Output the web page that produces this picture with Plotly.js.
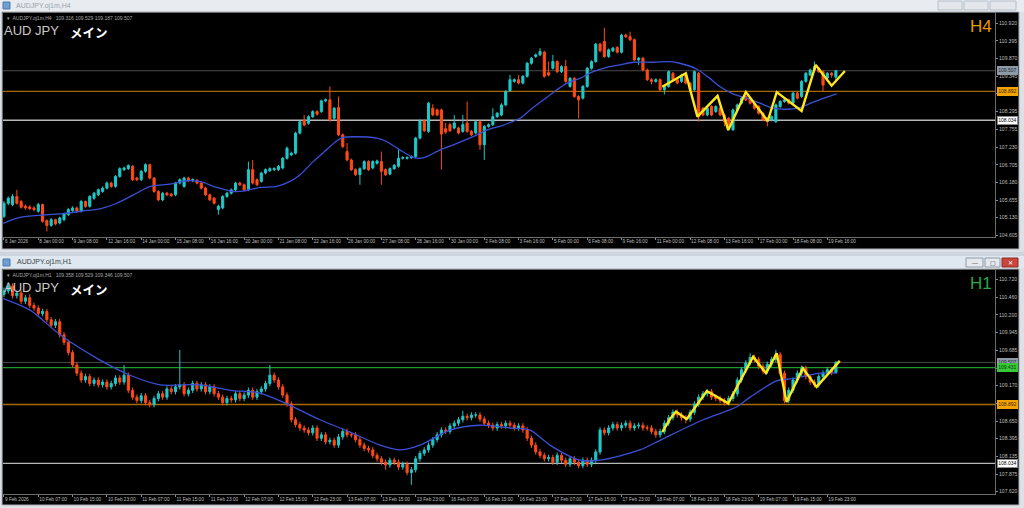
<!DOCTYPE html>
<html><head><meta charset="utf-8">
<script src="https://cdn.plot.ly/plotly-3.0.1.min.js"></script>
<style>html,body{margin:0;padding:0;background:#dde1e6;overflow:hidden}#chart{width:1024px;height:508px}</style>
</head><body><div id="chart"></div>
<script>
// ---------- H4 panel data ----------
const h4Open=[105.17,105.56,105.52,105.76,105.61,105.47,105.45,105.42,105.32,105.52,
105.04,104.90,105.07,104.97,105.07,105.22,105.34,105.42,105.32,105.61,
105.47,105.71,105.81,105.91,106.01,106.16,106.06,106.36,106.56,106.59,
106.66,106.31,106.26,106.51,106.71,106.31,105.91,105.66,105.86,105.83,
105.81,106.16,106.06,106.31,106.23,106.24,106.16,106.01,105.81,105.71,
105.37,105.42,105.76,105.86,105.96,106.16,106.11,105.96,106.56,106.26,
106.21,106.46,106.53,106.56,106.56,106.61,106.90,107.00,107.05,107.65,
108.04,107.94,108.14,108.29,108.29,108.61,108.64,108.09,108.41,107.60,
107.10,106.85,106.56,106.41,106.59,106.80,106.61,106.75,106.80,106.56,
106.43,106.59,106.66,106.90,106.90,106.92,106.95,107.50,108.02,107.70,
108.39,108.34,108.34,107.78,107.90,107.80,107.80,107.70,107.95,107.70,
107.65,107.99,107.30,107.85,107.90,108.14,108.19,108.49,108.91,109.19,
109.24,109.14,109.34,109.73,109.93,109.98,110.06,109.45,109.58,109.78,
109.48,109.63,109.04,109.28,108.74,108.69,109.04,109.58,109.78,110.30,
110.38,109.93,110.10,110.20,110.06,110.57,110.52,110.43,109.83,109.88,
109.53,109.24,109.19,109.24,108.94,109.04,109.43,109.24,109.19,109.38,
109.14,108.94,109.43,108.39,108.19,108.44,108.29,108.39,108.19,108.09,
107.75,108.34,108.54,108.74,108.69,108.54,108.44,108.24,108.09,108.04,
107.99,108.44,108.59,108.64,108.54,108.84,108.74,109.19,109.38,109.53,
109.58,109.48,109.29,109.43,109.316];
const h4High=[105.62,105.76,105.83,105.96,105.66,105.52,105.50,105.47,105.57,105.55,
105.08,105.12,105.10,105.16,105.28,105.42,105.47,105.46,105.66,105.64,
105.80,105.90,106.00,106.06,106.21,106.20,106.40,106.63,106.65,106.71,
106.70,106.35,106.55,106.75,106.74,106.34,105.95,105.90,105.90,105.87,
106.20,106.30,106.35,106.35,106.30,106.28,106.20,106.05,105.85,105.75,
105.52,105.80,105.90,106.00,106.20,106.20,106.15,106.80,106.85,106.30,
106.50,106.60,106.63,106.63,106.70,106.94,107.25,107.10,107.69,108.03,
108.19,108.18,108.33,108.33,108.65,108.68,109.04,108.43,108.74,107.64,
107.35,106.89,106.60,106.63,106.84,106.84,106.84,106.86,107.10,106.60,
106.63,106.73,107.15,106.96,106.96,106.99,107.54,108.06,108.06,108.58,
108.51,108.38,108.38,107.95,107.95,108.19,107.84,108.19,108.59,107.74,
108.03,108.03,107.89,107.94,108.39,108.28,108.54,108.93,109.38,109.28,
109.38,109.38,109.77,109.92,110.02,110.18,110.10,109.78,109.98,109.82,
109.67,109.83,109.32,109.32,108.78,109.08,109.62,109.82,110.34,110.34,
110.79,110.17,110.22,110.24,110.61,110.61,110.67,110.47,109.92,109.92,
109.57,109.28,109.28,109.28,109.08,109.52,109.47,109.28,109.42,109.42,
109.18,109.52,109.47,108.43,108.43,108.48,108.48,108.43,108.23,108.13,
108.38,108.53,108.73,108.78,108.73,108.58,108.48,108.28,108.13,108.18,
108.53,108.63,108.68,108.68,108.88,108.88,109.23,109.47,109.57,109.78,
109.62,109.52,109.47,109.47,109.529];
const h4Low=[105.12,105.50,105.47,105.52,105.40,105.37,105.36,105.32,105.28,104.98,
104.72,104.86,104.90,104.93,105.02,105.18,105.30,105.28,105.28,105.42,
105.43,105.66,105.77,105.87,105.97,106.02,106.02,106.32,106.52,106.55,
106.22,106.22,106.22,106.47,106.27,105.87,105.62,105.62,105.77,105.74,
105.77,106.12,106.02,106.19,106.19,106.12,105.97,105.77,105.62,105.52,
105.22,105.38,105.72,105.82,105.92,106.07,105.92,105.92,106.12,106.07,
106.17,106.42,106.49,106.52,106.52,106.57,106.86,106.96,107.01,107.61,
107.85,107.90,108.10,108.17,108.25,108.57,107.99,108.05,107.56,107.20,
106.81,106.52,106.37,106.11,106.55,106.52,106.57,106.71,106.11,106.37,
106.39,106.55,106.62,106.86,106.86,106.88,106.91,107.46,107.68,107.66,
108.15,108.15,106.56,107.62,107.68,107.76,107.61,107.66,107.66,107.56,
107.61,107.15,106.85,107.81,107.86,108.10,108.15,108.45,108.87,109.15,
109.10,109.10,109.30,109.69,109.89,109.94,109.30,109.34,109.54,109.44,
109.44,109.15,109.00,108.70,108.09,108.65,109.00,109.54,109.74,110.06,
109.89,109.89,110.06,110.02,110.02,110.48,110.39,109.79,109.68,109.49,
109.20,109.10,109.15,108.90,108.80,109.00,109.20,109.10,109.15,109.10,
108.90,108.90,107.99,108.15,108.15,108.15,108.25,108.15,107.85,107.85,
107.71,108.30,108.50,108.60,108.50,108.35,108.20,108.00,107.85,108.00,
107.95,108.40,108.55,108.50,108.50,108.65,108.70,109.15,109.34,109.49,
109.44,108.89,109.25,109.30,109.187];
const h4Close=[105.56,105.71,105.76,105.56,105.44,105.42,105.40,105.37,105.52,105.02,
104.90,105.07,104.94,105.12,105.24,105.37,105.42,105.32,105.61,105.47,
105.76,105.86,105.96,106.01,106.16,106.06,106.36,106.59,106.61,106.69,
106.26,106.26,106.51,106.71,106.31,105.91,105.66,105.86,105.81,105.79,
106.16,106.26,106.31,106.23,106.26,106.16,106.01,105.81,105.66,105.56,
105.47,105.76,105.86,105.96,106.16,106.11,105.96,106.56,106.16,106.11,
106.46,106.56,106.59,106.59,106.66,106.90,107.20,107.05,107.65,107.99,
107.89,108.14,108.29,108.21,108.61,108.64,108.04,108.39,107.60,107.25,
106.85,106.56,106.41,106.59,106.80,106.56,106.80,106.82,106.51,106.41,
106.59,106.69,106.90,106.92,106.92,106.95,107.50,108.01,107.72,108.54,
108.19,108.19,107.62,107.68,107.72,107.95,107.65,107.90,107.70,107.60,
107.99,107.30,107.85,107.90,108.14,108.24,108.49,108.89,109.24,109.24,
109.14,109.34,109.73,109.88,109.98,110.08,109.34,109.38,109.78,109.48,
109.63,109.19,109.28,108.74,108.64,109.04,109.58,109.78,110.30,110.10,
109.93,110.13,110.18,110.06,110.57,110.52,110.43,109.83,109.88,109.53,
109.24,109.19,109.24,108.94,109.04,109.48,109.24,109.14,109.38,109.14,
108.94,109.48,108.14,108.19,108.39,108.19,108.44,108.19,107.99,107.89,
108.34,108.49,108.69,108.64,108.54,108.39,108.24,108.04,107.99,108.14,
108.49,108.59,108.64,108.54,108.84,108.69,109.19,109.43,109.53,109.63,
109.48,109.08,109.43,109.38,109.507];
const h4MaX=[-0.2,3.7,9.2,13.8,18.5,22.8,26.3,30.2,34.1,38.7,42.6,45.7,49.6,53.5,56.2,59.7,63.6,66.7,69.0,72.1,75.2,77.6,79.1,81.5,86.9,89.2,92.3,95.5,97.0,98.6,101.7,104.8,109.5,112.6,116.5,120.3,122.7,125.8,128.1,131.2,134.3,137.4,140.6,143.7,146.8,151.4,155.3,157.6,161.5,164.6,167.0,170.1,173.2,176.3,179.4,182.5,185.6,188.7,191.9,194.2];
const h4MaY=[104.96,105.14,105.21,105.25,105.33,105.41,105.56,105.81,106.06,106.13,106.23,106.21,106.03,105.91,105.93,106.03,106.06,106.21,106.40,106.80,107.15,107.42,107.52,107.54,107.50,107.40,107.15,106.92,106.90,106.95,107.15,107.30,107.55,107.74,107.89,108.09,108.34,108.64,108.86,109.13,109.28,109.48,109.61,109.68,109.76,109.76,109.78,109.73,109.56,109.28,109.03,108.81,108.69,108.54,108.39,108.36,108.41,108.57,108.72,108.82];
const h4ZigX=[153.5,159.0,161.7,166.4,168.9,173.0,178.1,180.2,186.0,189.3,193.0,196.1];
const h4ZigY=[109.03,109.43,108.14,108.76,107.74,108.87,108.01,108.87,108.31,109.68,109.06,109.50];
const h4TickIdx=[0,8,16,24,32,40,48,56,64,72,80,88,96,104,112,120,128,136,144,152,160,168,176,184,192];
const h4TickText=['6 Jan 2026','8 Jan 00:00','9 Jan 08:00','12 Jan 16:00','14 Jan 00:00','15 Jan 08:00','16 Jan 16:00','20 Jan 00:00','21 Jan 08:00','22 Jan 16:00','26 Jan 00:00','27 Jan 08:00','28 Jan 16:00','30 Jan 00:00','2 Feb 08:00','3 Feb 16:00','5 Feb 00:00','6 Feb 08:00','9 Feb 16:00','11 Feb 00:00','12 Feb 08:00','13 Feb 16:00','17 Feb 00:00','18 Feb 08:00','19 Feb 16:00'];
const h4PriceTicks=[110.920,110.395,109.870,109.345,108.820,108.295,107.755,107.230,106.705,106.180,105.655,105.130,104.605];
const h4PriceLabels=['110.920','110.395','109.870','109.345','','108.295','107.755','107.230','106.705','106.180','105.655','105.130','104.605'];

// ---------- H1 panel data ----------
const h1Open=[110.50,110.55,110.62,110.48,110.52,110.40,110.45,110.34,110.30,110.22,
110.25,110.13,110.05,110.10,109.91,109.80,109.65,109.47,109.35,109.25,
109.30,109.20,109.25,109.18,109.22,109.15,109.20,109.28,109.22,109.32,
109.10,109.00,108.95,109.02,108.92,108.89,108.98,109.05,109.00,109.12,
109.08,109.15,109.18,109.05,109.10,109.20,109.12,109.18,109.08,109.15,
109.05,109.00,108.92,108.98,108.96,109.05,108.98,109.03,109.10,109.00,
109.08,109.12,109.20,109.32,109.25,109.15,109.03,108.90,108.67,108.60,
108.55,108.52,108.48,108.55,108.40,108.45,108.35,108.37,108.30,108.42,
108.50,108.45,108.45,108.38,108.30,108.25,108.23,108.15,108.10,108.05,
108.01,108.08,108.05,107.98,108.02,107.90,107.94,108.10,108.18,108.23,
108.30,108.38,108.45,108.52,108.50,108.58,108.62,108.67,108.72,108.70,
108.74,108.74,108.68,108.62,108.59,108.55,108.60,108.58,108.62,108.59,
108.55,108.58,108.52,108.40,108.30,108.20,108.15,108.10,108.12,108.05,
108.15,108.08,108.02,108.10,108.05,108.00,108.08,108.02,108.08,108.20,
108.52,108.48,108.55,108.60,108.55,108.59,108.62,108.55,108.58,108.59,
108.55,108.55,108.50,108.45,108.50,108.62,108.70,108.78,108.74,108.70,
108.68,108.78,108.90,109.00,109.05,109.08,109.00,108.98,108.95,108.92,
108.98,109.05,109.25,109.40,109.50,109.58,109.55,109.45,109.38,109.48,
109.55,109.62,109.35,108.95,109.10,109.25,109.35,109.42,109.30,109.22,
109.18,109.30,109.35,109.40,109.358];
const h1High=[110.60,110.68,110.66,110.56,110.56,110.49,110.50,110.38,110.34,110.29,
110.29,110.17,110.14,110.14,109.95,109.84,109.69,109.51,109.39,109.34,
109.34,109.29,109.29,109.26,109.26,109.24,109.32,109.32,109.47,109.36,
109.14,109.04,109.06,109.06,108.96,109.02,109.09,109.09,109.16,109.16,
109.19,109.69,109.22,109.14,109.24,109.24,109.22,109.22,109.19,109.19,
109.09,109.04,109.02,109.02,109.09,109.09,109.07,109.14,109.14,109.12,
109.16,109.24,109.47,109.36,109.29,109.19,109.07,108.94,108.71,108.64,
108.59,108.56,108.59,108.59,108.49,108.49,108.41,108.41,108.46,108.54,
108.54,108.49,108.49,108.42,108.34,108.29,108.27,108.19,108.14,108.09,
108.12,108.12,108.09,108.06,108.06,107.98,108.14,108.22,108.27,108.34,
108.42,108.49,108.56,108.56,108.62,108.66,108.71,108.80,108.76,108.78,
108.78,108.78,108.72,108.66,108.63,108.64,108.64,108.66,108.66,108.63,
108.62,108.62,108.56,108.44,108.34,108.24,108.19,108.16,108.16,108.19,
108.19,108.12,108.14,108.14,108.09,108.12,108.12,108.12,108.24,108.56,
108.56,108.59,108.64,108.64,108.63,108.66,108.66,108.62,108.63,108.63,
108.59,108.59,108.54,108.54,108.66,108.74,108.82,108.82,108.78,108.74,
108.82,108.94,109.04,109.09,109.12,109.12,109.04,109.02,108.99,109.02,
109.09,109.29,109.44,109.54,109.64,109.62,109.59,109.49,109.52,109.59,
109.69,109.66,109.39,109.14,109.29,109.39,109.46,109.46,109.34,109.26,
109.34,109.39,109.44,109.44,109.529];
const h1Low=[110.46,110.51,110.44,110.44,110.36,110.36,110.30,110.26,110.18,110.18,
110.09,110.01,110.01,109.87,109.76,109.61,109.43,109.31,109.21,109.21,
109.16,109.16,109.14,109.14,109.11,109.11,109.16,109.18,109.18,109.06,
108.96,108.91,108.91,108.88,108.85,108.85,108.94,108.96,108.96,109.04,
109.04,109.11,109.01,109.01,109.06,109.08,109.08,109.04,109.04,109.01,
108.96,108.88,108.88,108.92,108.92,108.94,108.94,108.99,108.96,108.96,
109.04,109.08,109.16,109.21,109.11,108.99,108.86,108.63,108.56,108.51,
108.48,108.44,108.44,108.36,108.36,108.31,108.31,108.26,108.26,108.38,
108.41,108.41,108.34,108.26,108.21,108.19,108.11,108.06,108.01,107.94,
107.97,108.01,107.94,107.94,107.86,107.72,107.90,108.06,108.14,108.19,
108.26,108.34,108.41,108.46,108.46,108.54,108.58,108.63,108.66,108.66,
108.70,108.64,108.58,108.55,108.51,108.51,108.54,108.54,108.55,108.51,
108.51,108.48,108.36,108.26,108.16,108.11,108.06,108.06,108.01,108.01,
108.04,107.98,107.98,108.01,107.96,107.96,107.98,107.98,108.04,108.16,
108.44,108.44,108.51,108.51,108.51,108.55,108.51,108.51,108.54,108.51,
108.51,108.46,108.41,108.41,108.46,108.58,108.66,108.70,108.66,108.62,
108.64,108.74,108.86,108.96,109.01,108.96,108.94,108.91,108.88,108.88,
108.94,109.01,109.21,109.36,109.46,109.51,109.41,109.34,109.34,109.44,
109.51,109.31,108.91,108.91,109.06,109.21,109.31,109.26,109.18,109.14,
109.14,109.26,109.31,109.32,109.346];
const h1Close=[110.55,110.62,110.48,110.52,110.40,110.45,110.34,110.30,110.22,110.25,
110.13,110.05,110.10,109.91,109.80,109.65,109.47,109.35,109.25,109.30,
109.20,109.25,109.18,109.22,109.15,109.20,109.28,109.22,109.32,109.10,
109.00,108.95,109.02,108.92,108.89,108.98,109.05,109.00,109.12,109.08,
109.15,109.18,109.05,109.10,109.20,109.12,109.18,109.08,109.15,109.05,
109.00,108.92,108.98,108.96,109.05,108.98,109.03,109.10,109.00,109.08,
109.12,109.20,109.32,109.25,109.15,109.03,108.90,108.67,108.60,108.55,
108.52,108.48,108.55,108.40,108.45,108.35,108.37,108.30,108.42,108.50,
108.45,108.45,108.38,108.30,108.25,108.23,108.15,108.10,108.05,108.01,
108.08,108.05,107.98,108.02,107.90,107.94,108.10,108.18,108.23,108.30,
108.38,108.45,108.52,108.50,108.58,108.62,108.67,108.72,108.70,108.74,
108.74,108.68,108.62,108.59,108.55,108.60,108.58,108.62,108.59,108.55,
108.58,108.52,108.40,108.30,108.20,108.15,108.10,108.12,108.05,108.15,
108.08,108.02,108.10,108.05,108.00,108.08,108.02,108.08,108.20,108.52,
108.48,108.55,108.60,108.55,108.59,108.62,108.55,108.58,108.59,108.55,
108.55,108.50,108.45,108.50,108.62,108.70,108.78,108.74,108.70,108.68,
108.78,108.90,109.00,109.05,109.08,109.00,108.98,108.95,108.92,108.98,
109.05,109.25,109.40,109.50,109.58,109.55,109.45,109.38,109.48,109.55,
109.62,109.35,108.95,109.10,109.25,109.35,109.42,109.30,109.22,109.18,
109.30,109.35,109.40,109.358,109.507];
const h1MaX=[-0.2,6.1,13.1,22.4,29.4,36.4,45.7,52.7,59.7,66.7,73.7,80.7,87.7,92.4,97.0,104.0,111.0,118.0,122.7,127.3,134.3,139.0,148.3,153.0,163.0,170.9,174.0,180.3,184.0,190.3,194.3];
const h1MaY=[110.44,110.27,109.91,109.54,109.32,109.18,109.18,109.10,109.06,108.88,108.67,108.49,108.30,108.23,108.30,108.52,108.59,108.55,108.52,108.30,108.08,108.08,108.23,108.37,108.67,108.86,109.00,109.24,109.27,109.35,109.35];
const h1ZigX=[153.5,155.3,156.7,159.2,163.9,168.9,174.7,177.7,180.2,182.5,186.3,189.5,194.9];
const h1ZigY=[108.49,108.68,108.79,108.68,109.09,108.91,109.59,109.35,109.64,108.93,109.42,109.15,109.53];
const h1TickIdx=[0,8,16,24,32,40,48,56,64,72,80,88,96,104,112,120,128,136,144,152,160,168,176,184,192];
const h1TickText=['9 Feb 2026','10 Feb 07:00','10 Feb 15:00','10 Feb 23:00','11 Feb 07:00','11 Feb 15:00','11 Feb 23:00','12 Feb 07:00','12 Feb 15:00','12 Feb 23:00','13 Feb 07:00','13 Feb 15:00','13 Feb 23:00','16 Feb 07:00','16 Feb 15:00','16 Feb 23:00','17 Feb 07:00','17 Feb 15:00','17 Feb 23:00','18 Feb 07:00','18 Feb 15:00','18 Feb 23:00','19 Feb 07:00','19 Feb 15:00','19 Feb 23:00'];
const h1PriceTicks=[110.720,110.460,110.200,109.945,109.685,109.425,109.170,108.910,108.650,108.395,108.135,107.875,107.620];
const h1PriceLabels=['110.720','110.460','110.200','109.945','109.685','','109.170','','108.650','108.395','108.135','107.875','107.620'];

// price levels
const bidPrice=109.507, levelOrange=108.892, levelWhite=108.034, levelGreen=109.431;

// ---------- styling ----------
const W=1024,H=508;
const px=v=>v/W, py=v=>1-v/H;
const UP='#1fc8c8', DN='#ff4b16', MA='#3a50d8', ZIG='#ffe81a';
const FONT='Liberation Sans, Arial, sans-serif';
const XR=[-0.23,231.1];
const barsX=n=>Array.from({length:n},(_,i)=>i);

function candle(o,h,l,c,xa,ya){
  return {type:'candlestick',x:barsX(c.length),open:o,high:h,low:l,close:c,xaxis:xa,yaxis:ya,
    increasing:{line:{color:UP,width:1},fillcolor:UP},decreasing:{line:{color:DN,width:1},fillcolor:DN},
    whiskerwidth:0,hoverinfo:'none',showlegend:false};
}
function line(x,y,color,w,xa,ya,shape){
  return {type:'scatter',mode:'lines',x:x,y:y,xaxis:xa,yaxis:ya,line:{color:color,width:w,shape:shape||'linear',smoothing:0.8},hoverinfo:'none',showlegend:false};
}
const data=[
  candle(h4Open,h4High,h4Low,h4Close,'x','y'),
  line(h4MaX,h4MaY,MA,1.3,'x','y','spline'),
  line(h4ZigX,h4ZigY,ZIG,2.4,'x','y'),
  candle(h1Open,h1High,h1Low,h1Close,'x2','y2'),
  line(h1MaX,h1MaY,MA,1.3,'x2','y2','spline'),
  line(h1ZigX,h1ZigY,ZIG,2.4,'x2','y2')
];

function xAxis(anchor,vals,text){
  return {domain:[px(3),px(995)],range:XR,anchor:anchor,showgrid:false,zeroline:false,showline:true,mirror:true,
    linecolor:'#6c6c6c',linewidth:1,ticks:'outside',ticklen:2,tickcolor:'#8a8a8a',tickvals:vals,ticktext:text,
    tickangle:0,ticklabelposition:'outside right',tickfont:{family:FONT,size:4.7,color:'#bdbdbd'},
    rangeslider:{visible:false},fixedrange:true};
}
function yAxis(anchor,dom,range,ticks,labels){
  return {domain:dom,range:range,anchor:anchor,side:'right',showgrid:false,zeroline:false,showline:true,mirror:true,
    linecolor:'#6c6c6c',linewidth:1,ticks:'outside',ticklen:2,tickcolor:'#8a8a8a',tickvals:ticks,
    ticktext:labels,tickfont:{family:FONT,size:5.1,color:'#bdbdbd'},fixedrange:true};
}
function hline(p,color,w,xa,ya){
  return {type:'line',xref:xa,yref:ya,x0:XR[0],x1:XR[1],y0:p,y1:p,line:{color:color,width:w},layer:'below'};
}
function rect(x0,y0,x1,y1,fill,border){
  return {type:'rect',xref:'paper',yref:'paper',x0:px(x0),x1:px(x1),y0:py(y1),y1:py(y0),fillcolor:fill,
    line:{color:border||fill,width:border?1:0},layer:'below'};
}
const shapes=[
  rect(0,0,1024,12,'#e8ecf1'),
  rect(2,12,1019,249,'#000000','#a9b0b8'),
  rect(0,252,1024,256,'#cfd5dc'),
  rect(0,256,1024,268,'#dfe7f0'),
  rect(2,269,1019,505,'#000000','#a9b0b8'),
  rect(3,2,10,9,'#6f9fd0','#4a78a8'),
  rect(3,259,10,266,'#6f9fd0','#4a78a8'),
  rect(938,1,962,10,'#e3e7ec','#b6bec7'),
  rect(964,1,988,10,'#e3e7ec','#b6bec7'),
  rect(990,1,1016,10,'#e3e7ec','#b6bec7'),
  rect(966,258,983,267,'#e4e9ef','#8f9aa6'),
  rect(985,258,1000,267,'#e4e9ef','#8f9aa6'),
  rect(1002,258,1018,267,'#c9473d','#8e2a22'),
  hline(bidPrice,'#4a4a4a',1,'x','y'),
  hline(levelOrange,'#a86a00',1.4,'x','y'),
  hline(levelWhite,'#b8b8b8',1.4,'x','y'),
  hline(bidPrice,'#4a4a4a',1,'x2','y2'),
  hline(levelGreen,'#1f9a2a',1.2,'x2','y2'),
  hline(levelOrange,'#a86a00',1.4,'x2','y2'),
  hline(levelWhite,'#b8b8b8',1.4,'x2','y2')
];

function tag(p,ya,bg,fg,border){
  return {xref:'paper',yref:ya,x:px(997),y:p,xanchor:'left',yanchor:'middle',text:p.toFixed(3),showarrow:false,
    font:{family:FONT,size:5,color:fg},bgcolor:bg,bordercolor:border||bg,borderwidth:1,borderpad:0.3};
}
function txt(t,x,y,size,color,xa,extra){
  return Object.assign({xref:'paper',yref:'paper',x:px(x),y:py(y),xanchor:xa||'left',yanchor:'middle',text:t,
    showarrow:false,font:{family:FONT,size:size,color:color}},extra||{});
}
const last4=h4Open.length-1, last1=h1Close.length-1;
const f3=v=>v.toFixed(3);
const JP={family:'Noto Sans CJK JP, sans-serif',size:12.5,color:'#ffffff'};
const annotations=[
  txt('AUDJPY.oj1m,H4',14,6,7,'#9aa0a8'),
  txt('AUDJPY.oj1m,H1',15,262,7,'#3a3f46'),
  txt('▾  AUDJPY.oj1m,H4   '+[h4Open[last4],h4High[last4],h4Low[last4],h4Close[last4]].map(f3).join(' '),5,18.2,5,'#a8a8a8'),
  txt('▾  AUDJPY.oj1m,H1   '+[h1Open[last1],h1High[last1],h1Low[last1],h1Close[last1]].map(f3).join(' '),5,274.5,5,'#a8a8a8'),
  txt('AUD JPY',2,21.2,13,'#c9c9c9','left',{yanchor:'top'}),
  txt('<b>メイン</b>',68,21.2,12.5,'#ffffff','left',{yanchor:'top',font:JP}),
  txt('AUD JPY',2,277.5,13,'#c9c9c9','left',{yanchor:'top'}),
  txt('<b>メイン</b>',68,277.5,12.5,'#ffffff','left',{yanchor:'top',font:JP}),
  txt('H4',994,26,17,'#e89c00','right'),
  txt('H1',994,283,17,'#2aa84a','right'),
  txt('—',974.5,262.5,6,'#333','center'),
  txt('▢',992.5,262.5,6,'#333','center'),
  txt('✕',1010,262.5,6,'#ffffff','center'),
  tag(bidPrice,'y','#8e9aa6','#1e2630'),
  tag(levelOrange,'y','#f3a300','#3a2400'),
  tag(levelWhite,'y','#ffffff','#000000','#888888'),
  tag(bidPrice,'y2','#8e9aa6','#1e2630'),
  tag(levelGreen,'y2','#38c838','#0b3a0b'),
  tag(levelOrange,'y2','#f3a300','#3a2400'),
  tag(levelWhite,'y2','#ffffff','#000000','#888888')
];

const layout={
  width:W,height:H,margin:{l:0,r:0,t:0,b:0},paper_bgcolor:'#dde1e6',plot_bgcolor:'#000000',showlegend:false,
  xaxis:xAxis('y',h4TickIdx,h4TickText),
  yaxis:yAxis('x',[py(236.7),py(13)],[104.563,111.227],h4PriceTicks,h4PriceLabels),
  xaxis2:xAxis('y2',h1TickIdx,h1TickText),
  yaxis2:yAxis('x2',[py(494.3),py(270)],[107.582,110.856],h1PriceTicks,h1PriceLabels),
  shapes:shapes,annotations:annotations
};
Plotly.newPlot('chart',data,layout,{staticPlot:true,displayModeBar:false});
</script></body></html>
